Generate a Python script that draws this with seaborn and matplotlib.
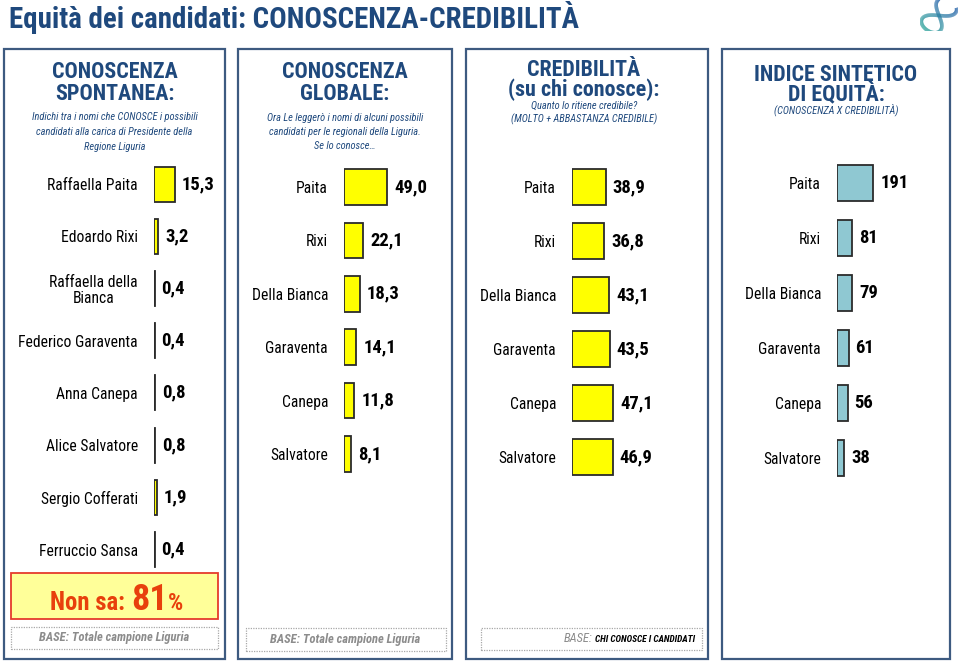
import numpy as np
import pandas as pd
import matplotlib
matplotlib.use("Agg")
import matplotlib.pyplot as plt
import seaborn as sns
from matplotlib import font_manager as fm
from matplotlib.font_manager import FontProperties
from matplotlib.textpath import TextPath
from matplotlib.patches import Rectangle
from matplotlib.collections import LineCollection

# ---------------- data ----------------
spont_names = ["Raffaella Paita", "Edoardo Rixi", "Raffaella della\nBianca",
               "Federico Garaventa", "Anna Canepa", "Alice Salvatore",
               "Sergio Cofferati", "Ferruccio Sansa"]
spont_values = [15.3, 3.2, 0.4, 0.4, 0.8, 0.8, 1.9, 0.4]

short_names = ["Paita", "Rixi", "Della Bianca", "Garaventa", "Canepa", "Salvatore"]
glob_values = [49.0, 22.1, 18.3, 14.1, 11.8, 8.1]
cred_values = [38.9, 36.8, 43.1, 43.5, 47.1, 46.9]
equity_values = [191, 81, 79, 61, 56, 38]
non_sa_value = 81

# ---------------- font choice (narrow sans if available) ----------------
def _weight(f):
    w = f.weight
    if isinstance(w, str):
        return {"normal": 400, "regular": 400, "bold": 700}.get(w, 400)
    return int(w)


def usable(name):
    ents = [f for f in fm.fontManager.ttflist if f.name == name]
    reg = any(f.style == "normal" and _weight(f) == 400 for f in ents)
    bold = any(f.style == "normal" and _weight(f) >= 700 for f in ents)
    ital = any(f.style in ("italic", "oblique") for f in ents)
    return reg and bold and ital


candidates = ["Liberation Sans Narrow", "Arial Narrow", "Roboto Condensed",
              "IBM Plex Sans Condensed", "Fira Sans Condensed", "Asap Condensed",
              "Barlow Condensed", "Encode Sans Condensed", "PT Sans Narrow",
              "Liberation Sans"]
FAM = "Liberation Sans"
for c in candidates:
    try:
        if usable(c):
            FAM = c
            break
    except Exception:
        pass

sns.set_theme(style="white")
plt.rcParams["font.family"] = [FAM, "DejaVu Sans"]

W, H = 960, 661
fig = plt.figure(figsize=(9.6, 6.61), dpi=100)
fig.patch.set_facecolor("white")
renderer = fig.canvas.get_renderer()

NAVY = "#1F497D"
BORDER = "#3D5A80"
YELLOW = "#FFFF00"
TEAL = "#8FC8D2"
EDGE = "#2B2B2B"


def fx(x):
    return x / W


def fy(y):
    return 1 - y / H


def cap_ratio(weight="normal", style="normal"):
    try:
        fp = FontProperties(family=FAM, weight=weight, style=style, size=10)
        return TextPath((0, 0), "H", size=10, prop=fp).get_extents().height / 10
    except Exception:
        return 0.72


def size_for(s, width_px, cap_px, weight="normal", style="normal", wexp=0.5):
    """Font size (pt) balancing the width and cap height read on the reference."""
    try:
        fp = FontProperties(family=FAM, weight=weight, style=style, size=10)
        w_pt = TextPath((0, 0), s, size=10, prop=fp).get_extents().width
        wfit = 10 * width_px * 0.72 / w_pt
        hfit = cap_px * 0.72 / cap_ratio(weight, style)
        return float(wfit ** wexp * hfit ** (1 - wexp))
    except Exception:
        return cap_px


def frect(x0, y0, x1, y1, **kw):
    r = Rectangle((fx(x0), fy(y1)), (x1 - x0) / W, (y1 - y0) / H,
                  transform=fig.transFigure, **kw)
    fig.patches.append(r)
    return r


# text sizes from widths / cap heights measured on the reference
S_TITLE = size_for("Equità dei candidati: CONOSCENZA-CREDIBILITÀ", 587, 20, "bold")
S_HEAD = size_for("CONOSCENZA", 130, 15, "bold")
S_SUB = size_for("Indichi tra i nomi che CONOSCE i possibili", 149, 8.3, "normal", "italic")
S_LAB = size_for("Raffaella Paita", 92, 10.7)
S_VAL = size_for("15,3", 31, 13, "bold")
S_NONSA = size_for("Non sa:", 75, 17, "bold")
S_81 = size_for("81", 29, 26, "bold")
S_PCT = size_for("%", 15, 15, "bold")
S_BASE = size_for("BASE: Totale campione Liguria", 153, 8.7, "bold", "italic")
S_BASE3 = size_for("CHI CONOSCE I CANDIDATI", 89, 8.7, "bold", "italic", wexp=0.7)

# panel borders
panels = [(4, 49, 225, 659), (238, 49, 452, 659), (466, 49, 708, 659), (722, 49, 950, 659)]
for (x0, y0, x1, y1) in panels:
    frect(x0, y0, x1, y1, fill=False, edgecolor=BORDER, lw=1.6)

# title
fig.text(fx(9), fy(18), "Equità dei candidati: CONOSCENZA-CREDIBILITÀ",
         color=NAVY, fontsize=S_TITLE, fontweight="bold", ha="left", va="center")

# logo (decorative ribbon)
lax = fig.add_axes([fx(920), fy(31), 38 / W, 31 / H])
lax.set_axis_off()
t = np.linspace(0.15 * np.pi, 1.9 * np.pi, 300)
lx = np.cos(t) / (1 + np.sin(t) ** 2)
ly = np.sin(t) * np.cos(t) / (1 + np.sin(t) ** 2) * 1.6
ang = np.deg2rad(52)
rx = lx * np.cos(ang) - ly * np.sin(ang)
ry = lx * np.sin(ang) + ly * np.cos(ang)
pts = np.column_stack([rx, ry]).reshape(-1, 1, 2)
segs = np.concatenate([pts[:-1], pts[1:]], axis=1)
cmap = matplotlib.colors.LinearSegmentedColormap.from_list("rib", ["#1F5FA8", "#2BA39A", "#1F5FA8"])
lc = LineCollection(segs, cmap=cmap, linewidths=2.6)
lc.set_array(np.linspace(0, 1, len(segs)))
lax.add_collection(lc)
lax.set_xlim(-0.95, 0.95)
lax.set_ylim(-0.85, 0.85)


# headers: two bold lines drawn as one text block, line gap matched to the reference
def two_line_header(cx, y1, y2, l1, l2):
    prop = FontProperties(family=[FAM, "DejaVu Sans"], weight="bold", size=S_HEAD)
    cap = S_HEAD * 100 / 72 * cap_ratio("bold")
    ls = 1.0
    try:
        _, lp_h, lp_d = renderer.get_text_width_height_descent("lp", prop, ismath=False)
        _, h1, d1 = renderer.get_text_width_height_descent(l1, prop, ismath=False)
        _, h2, d2 = renderer.get_text_width_height_descent(l2, prop, ismath=False)
        d1 = max(d1, lp_d)
        hd2 = max(h2, lp_h) - max(d2, lp_d)
        hd2 = max(hd2, lp_h - lp_d)
        ls = max(0.5, ((y2 - y1) - d1) / hd2)
    except Exception:
        pass
    # va="baseline" anchors the baseline of the last line of the block
    fig.text(fx(cx), fy(y2 + cap / 2), l1 + "\n" + l2, color=NAVY, fontsize=S_HEAD,
             fontweight="bold", ha="center", va="baseline", multialignment="center",
             linespacing=ls)


def sub_lines(cx, lines):
    for (y, txt) in lines:
        fig.text(fx(cx), fy(y), txt, color=NAVY, fontsize=S_SUB, fontstyle="italic",
                 ha="center", va="center")


two_line_header(114.5, 70, 92, "CONOSCENZA", "SPONTANEA:")
sub_lines(114.5, [(117, "Indichi tra i nomi che CONOSCE i possibili"),
                  (132, "candidati alla carica di Presidente della"),
                  (147, "Regione Liguria")])
two_line_header(345, 70, 92, "CONOSCENZA", "GLOBALE:")
sub_lines(345, [(118, "Ora Le leggerò i nomi di alcuni possibili"),
                (132, "candidati per le regionali della Liguria."),
                (146, "Se lo conosce…")])
two_line_header(584, 68, 88, "CREDIBILITÀ", "(su chi conosce):")
sub_lines(584, [(106, "Quanto lo ritiene credibile?"),
                (119, "(MOLTO + ABBASTANZA CREDIBILE)")])
two_line_header(836, 73, 93, "INDICE SINTETICO", "DI EQUITÀ:")
sub_lines(836, [(110, "(CONOSCENZA X CREDIBILITÀ)")])


# bar panels
def bar_panel(names, values, labels, left, top, spacing, scale, color, width_px=80):
    n = len(names)
    height = n * spacing
    ax = fig.add_axes([fx(left), fy(top + height), width_px / W, height / H])
    df = pd.DataFrame({"name": names, "value": values})
    sns.barplot(data=df, x="value", y="name", orient="h", color=color, saturation=1,
                edgecolor=EDGE, linewidth=1.3, width=0.67, ax=ax)
    ax.set_xlim(0, width_px / scale)
    ax.set_ylim(n - 0.5, -0.5)
    ax.set_xticks([])
    ax.set_xlabel("")
    ax.set_ylabel("")
    for s in ax.spines.values():
        s.set_visible(False)
    ax.patch.set_alpha(0)
    ax.tick_params(axis="y", length=0, pad=11.5, labelsize=S_LAB, labelcolor="black")
    for lbl in ax.get_yticklabels():
        lbl.set_multialignment("center")
        lbl.set_linespacing(1.05)
    ax.bar_label(ax.containers[0], labels=labels, padding=5, fontsize=S_VAL,
                 fontweight="bold", color="black")
    return ax


def fmt1(v):
    return f"{v:.1f}".replace(".", ",")


bar_panel(spont_names, spont_values, [fmt1(v) for v in spont_values],
          154, 158, 52.2, 1.37, YELLOW, width_px=65)
bar_panel(short_names, glob_values, [fmt1(v) for v in glob_values],
          344, 160.3, 53.4, 0.88, YELLOW)
bar_panel(short_names, cred_values, [fmt1(v) for v in cred_values],
          572, 160, 54, 0.87, YELLOW)
bar_panel(short_names, equity_values, [str(v) for v in equity_values],
          837, 155.5, 55, 0.19, TEAL)

# Non sa box
frect(11, 573, 218, 619, facecolor="#FFFF99", edgecolor="#E53B2C", lw=1.3)
RED = "#E8400C"
t_ns = fig.text(fx(50), fy(610), "Non sa:", color=RED, fontsize=S_NONSA, fontweight="bold",
                ha="left", va="baseline")
ns_end = t_ns.get_window_extent(renderer).x1
t81 = fig.text(max(fx(131), (ns_end + 5) / W), fy(610), f"{non_sa_value}", color=RED,
               fontsize=S_81, fontweight="bold", ha="left", va="baseline")
x81_end = t81.get_window_extent(renderer).x1
fig.text((x81_end + 0.5) / W, fy(610), "%", color=RED, fontsize=S_PCT, fontweight="bold",
         ha="left", va="baseline")

# BASE boxes
GRAY = "#8C8C8C"
for (x0, y0, x1, y1) in [(11, 627, 218, 649), (246, 628, 446, 651), (481, 628, 702, 650)]:
    frect(x0, y0, x1, y1, fill=False, edgecolor="#A8A8A8", lw=0.9, linestyle=(0, (1, 1)))
fig.text(fx(114.5), fy(638), "BASE: Totale campione Liguria", color=GRAY, fontsize=S_BASE,
         fontweight="bold", fontstyle="italic", ha="center", va="center")
fig.text(fx(345), fy(639.5), "BASE: Totale campione Liguria", color=GRAY, fontsize=S_BASE,
         fontweight="bold", fontstyle="italic", ha="center", va="center")
fig.text(fx(592), fy(639), "BASE:", color=GRAY, fontsize=S_BASE,
         fontstyle="italic", ha="right", va="center")
fig.text(fx(595), fy(639), "CHI CONOSCE I CANDIDATI", color="black", fontsize=S_BASE3,
         fontweight="bold", fontstyle="italic", ha="left", va="center")

fig.savefig("out.png", dpi=100)
